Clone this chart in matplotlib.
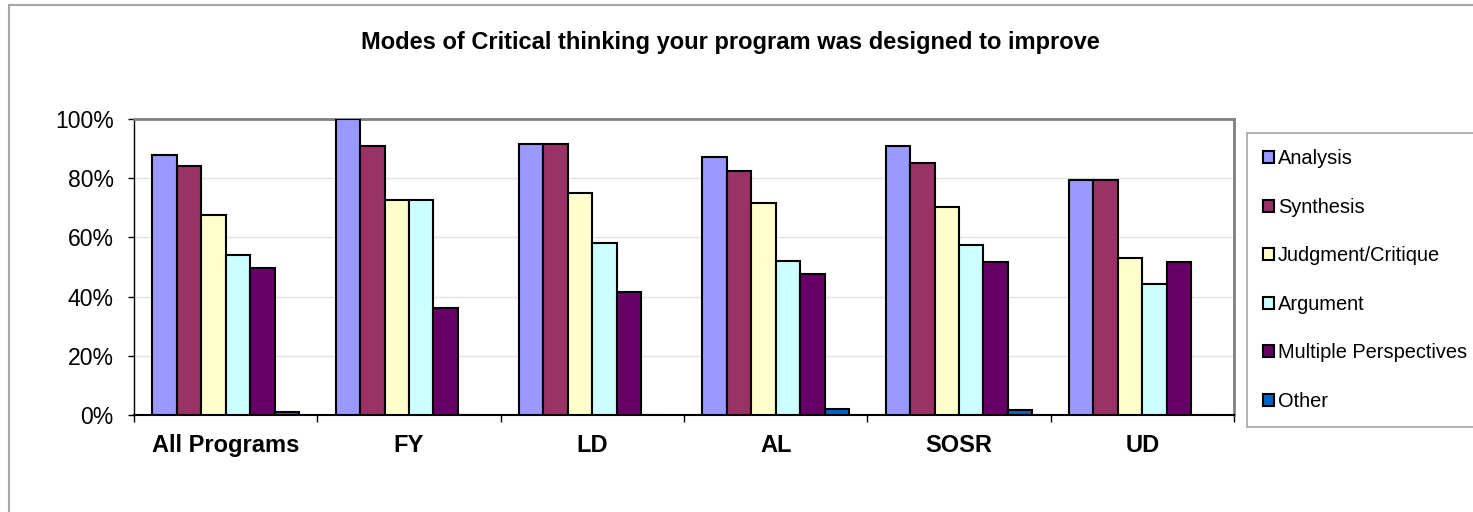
import matplotlib
matplotlib.use("Agg")
import numpy as np
import matplotlib.pyplot as plt
import matplotlib.ticker as mticker
from matplotlib.patches import Patch, Rectangle

# ---- data ----
programs = ["All Programs", "FY", "LD", "AL", "SOSR", "UD"]
modes = ["Analysis", "Synthesis", "Judgment/Critique", "Argument",
         "Multiple Perspectives", "Other"]

analysis  = [0.878, 1.000, 0.917, 0.870, 0.908, 0.794]
synthesis = [0.840, 0.909, 0.917, 0.825, 0.853, 0.794]
judgment  = [0.674, 0.727, 0.749, 0.717, 0.703, 0.529]
argument  = [0.540, 0.727, 0.582, 0.520, 0.574, 0.441]
multiple  = [0.496, 0.363, 0.415, 0.477, 0.517, 0.517]
other     = [0.011, 0.000, 0.000, 0.020, 0.016, 0.000]

colors = ["#9999FF", "#993366", "#FFFFCC", "#CCFFFF", "#660066", "#0066CC"]

plt.rcParams.update({
    "font.family": ["Liberation Sans", "DejaVu Sans"],
    "axes.edgecolor": "black",
})

W, H = 1473, 512
fig = plt.figure(figsize=(W / 100, H / 100), dpi=100)
fig.patch.set_facecolor("white")

# outer chart-area border (runs off the right and bottom edge)
fig.patches.append(Rectangle((9 / W, -0.2), 1.3, 1 - 5 / H + 0.2,
                             transform=fig.transFigure, fill=False,
                             ec="#A6A6A6", lw=1.5))

ax = fig.add_axes([134 / W, 1 - 415 / H, (1234 - 134) / W, (415 - 119) / H])

series = [analysis, synthesis, judgment, argument, multiple, other]
x = np.arange(len(programs))
w = 0.1336
for i, (vals, c) in enumerate(zip(series, colors)):
    ax.bar(x + (i - 2.5) * w, vals, width=w, color=c,
           edgecolor="black", linewidth=1.5, zorder=3)

ax.set_xlim(-0.5, len(programs) - 0.5)
ax.set_ylim(0, 1)

# y axis
ax.yaxis.set_major_locator(mticker.MultipleLocator(0.2))
ax.yaxis.set_major_formatter(mticker.FuncFormatter(lambda v, _: f"{v:.0%}"))
ax.grid(axis="y", color="#E3E3E3", linewidth=1, zorder=0)
ax.tick_params(axis="y", direction="out", length=4.5, width=1,
               labelsize=16.6, pad=10)

# x axis: ticks on category boundaries, labels at centres
ax.set_xticks(np.arange(len(programs) + 1) - 0.5)
ax.set_xticklabels([])
ax.set_xticks(x, minor=True)
ax.set_xticklabels(programs, minor=True, fontweight="bold", fontsize=17)
ax.tick_params(axis="x", which="major", direction="out", length=5, width=1)
ax.tick_params(axis="x", which="minor", length=0, pad=14)

for s in ("top", "right"):
    ax.spines[s].set_color("#808080")
    ax.spines[s].set_linewidth(2)
ax.spines["left"].set_linewidth(1)
ax.spines["bottom"].set_linewidth(1.5)

fig.text(730 / W, 1 - 43 / H,
         "Modes of Critical thinking your program was designed to improve",
         ha="center", va="center", fontsize=17, fontweight="bold")

handles = [Patch(facecolor=c, edgecolor="black", linewidth=1.5) for c in colors]
leg = fig.legend(handles, modes, loc="upper left",
                 bbox_to_anchor=(1247 / W, 1 - 133 / H),
                 bbox_transform=fig.transFigure,
                 fontsize=14.4, frameon=True, fancybox=False, shadow=False,
                 framealpha=1, edgecolor="#A6A6A6", borderpad=0.8,
                 handlelength=0.55, handleheight=0.55, handletextpad=0.2,
                 labelspacing=1.48, borderaxespad=0)
leg.get_frame().set_linewidth(1.2)

fig.savefig("out.png", dpi=100, facecolor="white")
